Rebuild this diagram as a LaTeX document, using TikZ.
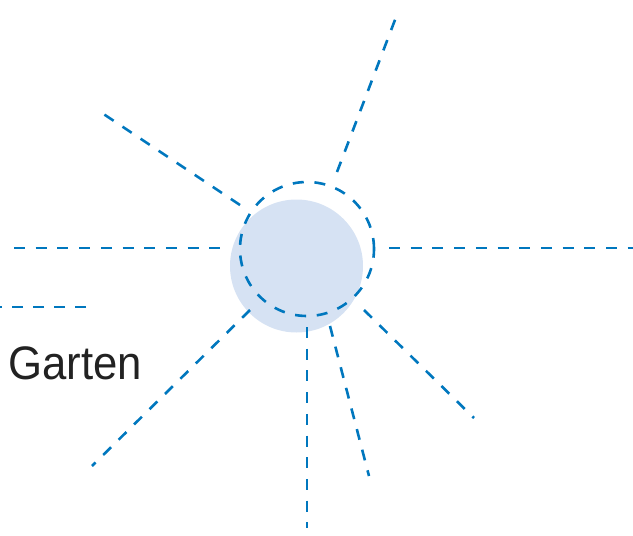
\documentclass[tikz,border=0pt]{standalone}
\usepackage{fontspec}
\setmainfont{Liberation Sans}
\definecolor{rayblue}{RGB}{0,119,190}
\definecolor{sunfill}{RGB}{214,226,243}
\definecolor{txt}{RGB}{34,34,34}
\begin{document}
\begin{tikzpicture}[x=1pt,y=-1pt,
  ray/.style={draw=rayblue,line width=2.6pt,dash pattern=on 11pt off 10.7pt}]
\useasboundingbox (0,0) rectangle (633,536);
\fill[sunfill] (296.5,266) circle (66.5);
\coordinate (c) at (307,249);
\node[ray,circle,minimum size=134pt,inner sep=0pt] (ring) at (c) {};
% ray end points
\coordinate (ur1) at (337,172); \coordinate (ur2) at (398,12);
\coordinate (ul1) at (240,205); \coordinate (ul2) at (102,113);
\coordinate (l1) at (222,248); \coordinate (l2) at (14,248);
\coordinate (r1) at (389,248); \coordinate (r2) at (633,248);
\coordinate (s1) at (86,307); \coordinate (s2) at (0,307);
\coordinate (ll1) at (250,310); \coordinate (ll2) at (92,466);
\coordinate (lr1) at (364,310); \coordinate (lr2) at (474,418);
\coordinate (b1) at (307,327); \coordinate (b2) at (307,528);
\coordinate (bs1) at (330,326); \coordinate (bs2) at (369,476);
\foreach \a in {ur,ul,r,ll,lr,b}{\draw[ray] (\a1) -- (\a2);}
\draw[ray,dash pattern=on 11pt off 10pt] (s1) -- (s2);
\draw[ray,dash pattern=on 11pt off 10.3pt] (bs1) -- (bs2);
\draw[ray] (l2) -- (l1);
\node[anchor=base west,inner sep=0pt,text=txt,xscale=0.93,font=\fontsize{47}{47}\selectfont] (garten) at (8,379) {Garten};
\end{tikzpicture}
\end{document}
